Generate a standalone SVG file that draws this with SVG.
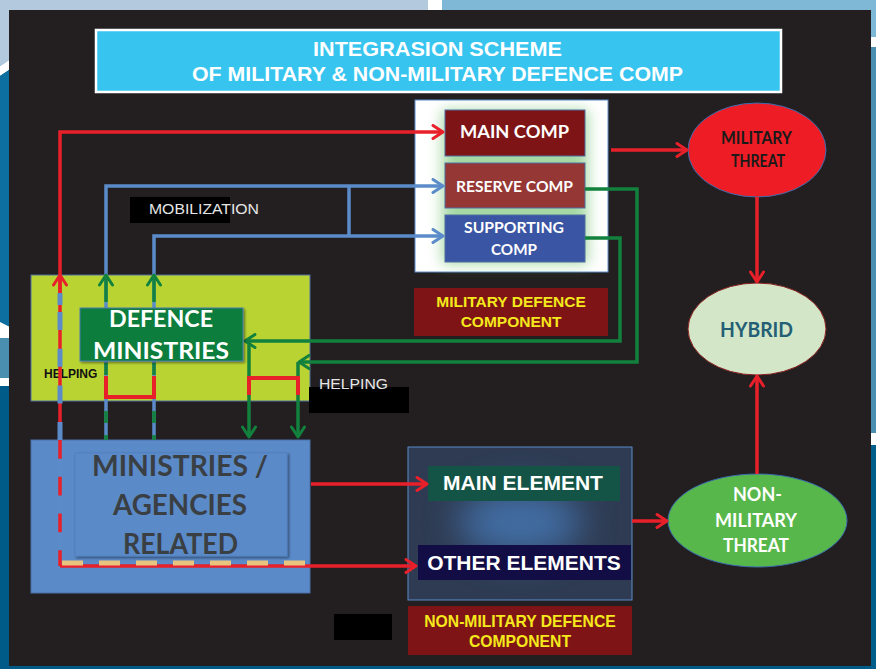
<svg xmlns="http://www.w3.org/2000/svg" width="876" height="669" viewBox="0 0 876 669">
<defs>
<style>
.sans{font-family:"Liberation Sans",Arial,sans-serif;font-weight:bold}
.cal{font-family:Lato,"Open Sans",sans-serif;font-weight:bold}
.lr{fill:none;stroke:#e8202a;stroke-width:3.5}
.lb{fill:none;stroke:#5b8cc9;stroke-width:3.5}
.lg{fill:none;stroke:#12813d;stroke-width:3.5}
</style>
<marker id="aR" viewBox="0 0 14 16" refX="12" refY="8" markerWidth="14" markerHeight="16" markerUnits="userSpaceOnUse" orient="auto"><path d="M2,1.5 L12,8 L2,14.5" fill="none" stroke="#e8202a" stroke-width="3" stroke-linecap="round" stroke-linejoin="round"/></marker>
<marker id="aB" viewBox="0 0 14 16" refX="12" refY="8" markerWidth="14" markerHeight="16" markerUnits="userSpaceOnUse" orient="auto"><path d="M2,1.5 L12,8 L2,14.5" fill="none" stroke="#5b8cc9" stroke-width="3" stroke-linecap="round" stroke-linejoin="round"/></marker>
<marker id="aG" viewBox="0 0 14 16" refX="12" refY="8" markerWidth="14" markerHeight="16" markerUnits="userSpaceOnUse" orient="auto"><path d="M2,1.5 L12,8 L2,14.5" fill="none" stroke="#12813d" stroke-width="3" stroke-linecap="round" stroke-linejoin="round"/></marker>
<filter id="blur" x="-30%" y="-30%" width="160%" height="160%"><feGaussianBlur stdDeviation="7"/></filter>
<filter id="blur2" x="-60%" y="-60%" width="220%" height="220%"><feGaussianBlur stdDeviation="18"/></filter>
<filter id="sh" x="-10%" y="-10%" width="130%" height="130%"><feDropShadow dx="1.5" dy="1.5" stdDeviation="1.2" flood-color="#000" flood-opacity="0.45"/></filter>
</defs>

<!-- background -->
<rect width="876" height="669" fill="#005b88"/>
<rect x="0" y="0" width="428" height="12" fill="#b3c9dd"/>
<rect x="428" y="0" width="14" height="12" fill="#ffffff"/>
<rect x="442" y="0" width="434" height="12" fill="#7fb8d6"/>
<polygon points="0,0 12,0 12,58 0,66" fill="#b3c9dd"/>
<polygon points="0,66 12,58 12,68 0,76" fill="#ffffff"/>
<polygon points="0,76 12,68 12,328 0,322" fill="#0d6fa0"/>
<polygon points="0,322 12,328 12,345 0,338" fill="#ffffff"/>
<rect x="0" y="338" width="12" height="40" fill="#4a8fb0"/>
<rect x="0" y="378" width="12" height="8" fill="#ffffff"/>
<rect x="866" y="12" width="10" height="25" fill="#7fb8d6"/>
<rect x="866" y="37" width="10" height="10" fill="#ffffff"/>
<rect x="866" y="47" width="10" height="386" fill="#4a8fb0"/>
<rect x="866" y="433" width="10" height="12" fill="#ffffff"/>
<rect x="866" y="445" width="10" height="224" fill="#005f8a"/>
<rect x="9" y="10" width="862" height="656" fill="#231f20"/>

<!-- title -->
<g id="title">
<rect x="96" y="30" width="685" height="62" fill="#37c5f0" stroke="#ffffff" stroke-width="2.5"/>
<text class="sans" x="437.5" y="56" font-size="20" fill="#ffffff" text-anchor="middle" textLength="249" lengthAdjust="spacingAndGlyphs">INTEGRASION SCHEME</text>
<text class="sans" x="437.5" y="81" font-size="20" fill="#ffffff" text-anchor="middle" textLength="491" lengthAdjust="spacingAndGlyphs">OF MILITARY &amp; NON-MILITARY DEFENCE COMP</text>
</g>

<!-- military defence component -->
<g id="military-component">
<rect x="415" y="100" width="193" height="172" fill="#ffffff" stroke="#5b8cc9" stroke-width="1"/>
<rect x="442" y="110" width="146" height="154" fill="#6cbf6c" opacity="0.6" filter="url(#blur)"/>
</g>
<g id="main-comp">
<rect x="445" y="110" width="140" height="46" fill="#7f1416" stroke="#4f6fa0" stroke-width="1"/>
<text class="cal" x="514.5" y="138" font-size="16.5" fill="#ffffff" text-anchor="middle" textLength="109" lengthAdjust="spacingAndGlyphs">MAIN COMP</text>
</g>
<g id="reserve-comp">
<rect x="445" y="163" width="140" height="45" fill="#953735" stroke="#4f6fa0" stroke-width="1"/>
<text class="cal" x="514.5" y="192" font-size="15" fill="#ffffff" text-anchor="middle" textLength="117" lengthAdjust="spacingAndGlyphs">RESERVE COMP</text>
</g>
<g id="supporting-comp">
<rect x="445" y="215" width="140" height="47" fill="#3a55a4" stroke="#4f6fa0" stroke-width="1"/>
<text class="cal" x="514" y="233" font-size="15" fill="#ffffff" text-anchor="middle" textLength="100" lengthAdjust="spacingAndGlyphs">SUPPORTING</text>
<text class="cal" x="514" y="255" font-size="15" fill="#ffffff" text-anchor="middle" textLength="46" lengthAdjust="spacingAndGlyphs">COMP</text>
</g>
<g id="military-label">
<rect x="414" y="288" width="194" height="48" fill="#7f1416"/>
<text class="sans" x="511" y="307" font-size="15.5" fill="#f5e81c" text-anchor="middle">MILITARY DEFENCE</text>
<text class="sans" x="511" y="327" font-size="15.5" fill="#f5e81c" text-anchor="middle">COMPONENT</text>
</g>

<!-- threats -->
<g id="military-threat">
<ellipse cx="757" cy="150" rx="69" ry="47" fill="#ee1c24" stroke="#3a6db0" stroke-width="1"/>
<text class="cal" x="756.5" y="144" font-size="16.5" fill="#1a1a1a" text-anchor="middle" textLength="71" lengthAdjust="spacingAndGlyphs">MILITARY</text>
<text class="cal" x="758" y="167" font-size="16.5" fill="#1a1a1a" text-anchor="middle" textLength="54" lengthAdjust="spacingAndGlyphs">THREAT</text>
</g>
<g id="hybrid">
<ellipse cx="757" cy="329" rx="69" ry="46" fill="#d3e6c8" stroke="#8b2020" stroke-width="1"/>
<text class="cal" x="756.5" y="337" font-size="21" fill="#245f75" text-anchor="middle" textLength="73" lengthAdjust="spacingAndGlyphs">HYBRID</text>
</g>
<g id="non-military-threat">
<ellipse cx="757.5" cy="520.5" rx="89.5" ry="46.5" fill="#58b74a" stroke="#3a6db0" stroke-width="1"/>
<text class="cal" x="757.5" y="501" font-size="19" fill="#ffffff" text-anchor="middle" textLength="49" lengthAdjust="spacingAndGlyphs">NON-</text>
<text class="cal" x="756" y="527" font-size="19" fill="#ffffff" text-anchor="middle" textLength="82" lengthAdjust="spacingAndGlyphs">MILITARY</text>
<text class="cal" x="756" y="552" font-size="19" fill="#ffffff" text-anchor="middle" textLength="66" lengthAdjust="spacingAndGlyphs">THREAT</text>
</g>

<!-- non-military component -->
<g id="non-military-component">
<rect x="408" y="447" width="224" height="153" fill="#2e3b52" stroke="#5b8cc9" stroke-width="1"/>
<ellipse cx="520" cy="522" rx="62" ry="34" fill="#4a7fc0" opacity="0.75" filter="url(#blur2)"/>
</g>
<g id="main-element">
<rect x="428" y="466" width="192" height="35" fill="#135446"/>
<text class="sans" x="523" y="490" font-size="21" fill="#ffffff" text-anchor="middle">MAIN ELEMENT</text>
</g>
<g id="other-elements">
<rect x="418" y="545" width="213" height="35" fill="#120d45"/>
<text class="sans" x="524" y="570" font-size="21" fill="#ffffff" text-anchor="middle">OTHER ELEMENTS</text>
</g>
<g id="non-military-label">
<rect x="408" y="606" width="224" height="49" fill="#7f1416"/>
<text class="sans" x="520" y="627" font-size="15.7" fill="#f5e81c" text-anchor="middle">NON-MILITARY DEFENCE</text>
<text class="sans" x="520" y="647" font-size="15.7" fill="#f5e81c" text-anchor="middle">COMPONENT</text>
</g>

<!-- left areas -->
<g id="defence-area">
<rect x="31" y="275" width="279" height="126" fill="#b9d432" stroke="#4f6fa0" stroke-width="1"/>
<text class="sans" x="44" y="378" font-size="12" fill="#111111">HELPING</text>
</g>
<g id="ministries-agencies">
<rect x="31" y="440" width="279" height="153" fill="#5a8ac8" stroke="#4a70a8" stroke-width="1"/>
<rect x="75" y="453" width="212" height="103" fill="#5a8ac8" stroke="#5282c0" stroke-width="1" filter="url(#sh)"/>
<text class="cal" x="180" y="476" font-size="29" fill="#3a3f44" text-anchor="middle" textLength="176" lengthAdjust="spacingAndGlyphs">MINISTRIES /</text>
<text class="cal" x="180" y="515" font-size="29" fill="#3a3f44" text-anchor="middle" textLength="134" lengthAdjust="spacingAndGlyphs">AGENCIES</text>
<text class="cal" x="180.5" y="554" font-size="29" fill="#3a3f44" text-anchor="middle" textLength="115" lengthAdjust="spacingAndGlyphs">RELATED</text>
</g>

<!-- labels -->
<g id="mobilization-label">
<rect x="130" y="197" width="100" height="26" fill="#000000"/>
<text x="149" y="214" font-family="Liberation Sans, Arial, sans-serif" font-size="15.5" fill="#e6e6e6" textLength="110" lengthAdjust="spacingAndGlyphs">MOBILIZATION</text>
</g>
<g id="helping-label">
<rect x="309" y="387" width="100" height="26" fill="#000000"/>
<text x="319" y="389" font-family="Liberation Sans, Arial, sans-serif" font-size="15.5" fill="#e6e6e6" textLength="69" lengthAdjust="spacingAndGlyphs">HELPING</text>
</g>
<rect x="334" y="614" width="58" height="26" fill="#000000"/>

<!-- connectors -->
<g id="connectors">
<!-- red main line -->
<path class="lr" d="M60,566 L60,132 L443,132" marker-end="url(#aR)"/>
<path class="lr" d="M60,300 L60,275" marker-end="url(#aR)"/>
<path d="M60,293 L60,305" fill="none" stroke="#5b8cc9" stroke-width="5"/>
<path d="M60,312 L60,556" fill="none" stroke="#5b8cc9" stroke-width="5" stroke-dasharray="18 18.7"/>
<path class="lr" d="M60,566 L416,566" marker-end="url(#aR)"/>
<path d="M62,563 L305,563" fill="none" stroke="#e9c47e" stroke-width="5" stroke-dasharray="21 16"/>
<!-- blue mobilization -->
<path class="lb" d="M106,440 L106,186 L443,186" marker-end="url(#aB)"/>
<path class="lb" d="M154,440 L154,236 L443,236" marker-end="url(#aB)"/>
<path class="lb" d="M349,186 L349,236"/>
<!-- green dashes on blue -->
<path class="lg" d="M106,302 L106,275" marker-end="url(#aG)"/>
<path class="lg" d="M154,302 L154,275" marker-end="url(#aG)"/>
<path d="M106,440 L106,363" fill="none" stroke="#12813d" stroke-width="3.5" stroke-dasharray="12 12" stroke-dashoffset="7"/>
<path d="M154,440 L154,363" fill="none" stroke="#12813d" stroke-width="3.5" stroke-dasharray="12 12" stroke-dashoffset="7"/>
<!-- green helping -->
<path class="lg" d="M585,189 L637,189 L637,362 L299,362" marker-end="url(#aG)"/>
<path class="lg" d="M585,238 L620,238 L620,341 L245,341" marker-end="url(#aG)"/>
<path class="lg" d="M249,341 L249,437" marker-end="url(#aG)"/>
<path class="lg" d="M298,362 L298,437" marker-end="url(#aG)"/>
<!-- red brackets -->
<path d="M106,376 L106,397 L154,397 L154,376" fill="none" stroke="#e8202a" stroke-width="4"/>
<path d="M249,395 L249,378 L298,378 L298,395" fill="none" stroke="#e8202a" stroke-width="4"/>
<!-- red threats -->
<path class="lr" d="M611,150 L687,150" marker-end="url(#aR)"/>
<path class="lr" d="M757,197 L757,282" marker-end="url(#aR)"/>
<path class="lr" d="M757,474 L757,376" marker-end="url(#aR)"/>
<path class="lr" d="M311,484 L427,484" marker-end="url(#aR)"/>
<path class="lr" d="M632,521 L667,521" marker-end="url(#aR)"/>
</g>

<g id="defence-ministries">
<rect x="80" y="308" width="163" height="53" fill="#0b7d3e" stroke="#4f7fb0" stroke-width="1" filter="url(#sh)"/>
<text class="cal" x="161" y="327" font-size="23" fill="#ffffff" text-anchor="middle" textLength="104" lengthAdjust="spacingAndGlyphs">DEFENCE</text>
<text class="cal" x="161" y="359" font-size="23" fill="#ffffff" text-anchor="middle" textLength="136" lengthAdjust="spacingAndGlyphs">MINISTRIES</text>
</g>
</svg>
